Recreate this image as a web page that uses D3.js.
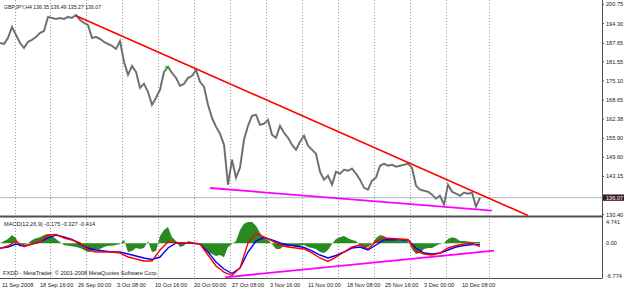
<!DOCTYPE html>
<html>
<head>
<meta charset="utf-8">
<script src="https://cdn.jsdelivr.net/npm/d3@7/dist/d3.min.js"></script>
<style>
  html, body { margin: 0; padding: 0; background: #fff; }
  svg { display: block; }
  text { font-family: "Liberation Sans", Arial, sans-serif; }
</style>
</head>
<body>
<div id="chart"></div>
<script>
// GBPJPY H4, closes read every 4 bars starting at bar 0
var closes = [187.83, 187.49, 189.50, 193.17, 190.50, 187.83, 186.16, 188.16, 188.83, 189.83,
  191.17, 191.84, 196.51, 196.18, 195.84, 196.18, 195.84, 196.51, 196.18, 197.18,
  195.51, 194.51, 193.84, 189.50, 189.83, 189.16, 188.16, 187.49, 186.83, 185.83,
  188.50, 181.48, 177.14, 180.15, 178.15, 172.80, 174.14, 171.47, 167.13, 169.46,
  172.14, 178.15, 179.82, 177.81, 176.14, 173.47, 174.14, 176.14, 176.81, 178.81,
  174.81, 173.14, 167.13, 162.79, 159.78, 157.44, 153.77, 140.42, 148.76, 142.75,
  146.09, 155.44, 160.11, 163.46, 163.79, 160.45, 160.78, 162.12, 157.11, 156.11,
  160.11, 157.78, 156.11, 153.77, 152.10, 154.77, 156.78, 153.44, 152.10, 150.77,
  144.76, 142.09, 143.42, 140.42, 144.76, 144.09, 145.42, 145.09, 145.76, 144.09,
  142.09, 139.41, 138.75, 141.75, 142.75, 146.76, 147.43, 146.76, 147.09, 146.43,
  146.76, 147.09, 147.43, 146.09, 140.08, 138.75, 138.41, 138.08, 137.08, 135.74,
  136.74, 133.74, 140.42, 138.08, 137.41, 136.74, 137.75, 137.41, 137.75, 133.07,
  136.07];
var closeStep = 4;

// MACD histogram every 4 bars, MACD lines every 8 bars
var histValues = [0, 0.45, 0.85, 1.6, 1.0, -0.7, -0.35, 0, 0.65, 1.0,
  1.2, 1.6, 1.8, 1.4, 0.85, 0.25, -0.35, -0.5, -0.6, -0.7,
  -0.9, -1.3, -1.7, -1.5, -1.3, -1.1, -0.7, -0.5, -0.5, -0.35,
  -0.15, 0.65, -1.7, -1.5, -0.9, -1.1, -0.9, 0.45, -1.7, -1.5,
  1.4, 2.6, 3.2, 1.2, 0.45, -0.7, -0.5, 0.45, 0.25, 0.05,
  -0.15, -1.3, -1.7, -2.1, -2.5, -2.3, -2.7, -0.7, -0.15, 0.45,
  2.6, 3.8, 4.15, 4.15, 3.4, 2.0, 1.0, 0.65, -0.15, -1.1,
  -1.1, -0.5, -0.7, -0.5, -0.7, -0.5, -0.35, -0.7, -0.9, -1.1,
  -1.7, -1.9, -1.3, -0.15, 0.85, 1.2, 1.4, 1.0, 0.65, 0.45,
  -0.5, -0.9, -0.7, -0.15, 1.0, 1.6, 1.4, 0.85, 0.65, 0.65,
  0.45, 0.65, 0.45, -1.1, -2.1, -1.9, -1.1, -0.9, -0.9, -0.5,
  -0.15, 0.05, 0.85, 1.2, 1.0, 0.45, 0.45, 0.35, 0.25, 0.25,
  0.25];
var histStep = 4;
var redLine = [-0.98, -0.53, 0.45, -0.66, -0.14, 0.25, 1.62, 1.72, 1.04, 0.64,
  0.06, -1.31, -1.70, -1.70, -1.70, -1.89, -2.67, -3.07, -3.46, -3.46,
  -1.31, 0.25, 0.16, 0.06, 0.06, -0.14, -2.29, -4.43, -5.61, -6.29,
  -4.82, 0.06, 1.91, 1.23, 0.45, -0.33, -0.72, -0.92, -1.11, -1.89,
  -2.87, -3.55, -2.68, -1.70, -0.72, -0.33, -1.11, 0.31, 1.04, 0.94,
  0.84, 0.74, -1.50, -2.09, -2.29, -1.89, -0.92, -0.43, -0.14, 0.00,
  -0.66];
var blueLine = [-0.98, -0.72, -0.14, -0.53, -0.14, 0.25, 1.04, 1.62, 1.23, 0.74,
  -0.14, -0.92, -1.31, -1.50, -1.70, -1.70, -2.09, -2.48, -2.87, -3.16,
  -2.68, -0.92, 0.06, 0.06, 0.00, -0.14, -1.70, -3.65, -5.02, -5.90,
  -4.82, -1.70, 0.45, 1.13, 0.64, 0.06, -0.33, -0.53, -0.82, -1.50,
  -2.29, -2.87, -2.38, -1.70, -0.92, -0.72, -1.31, -0.33, 0.64, 0.74,
  0.64, 0.64, -0.92, -1.89, -2.09, -1.89, -1.31, -0.72, -0.43, -0.23,
  -0.23];
var lineStep = 8;

// hand-drawn objects (bar, value)
var resistanceLine = [[76, 196.9], [528, 130.1]];
var supportLine = [[210, 139.3], [492, 131.7]];
var macdSupportLine = [[225, -6.64], [494, -1.45]];
var greenBar = {bar: 166, hi: 180.2, lo: 178.4};

var priceTicks = [200.75, 194.30, 187.65, 181.55, 175.10, 168.65, 162.38, 155.90, 149.60, 143.15, 130.40];
var macdTicks = [4.741, 0.00, -6.774];
var lastPrice = 136.07;
var gridBars = [15, 50, 86, 122, 158, 194, 230, 266, 302, 338, 374, 410, 446, 489];
var timeLabels = ["11 Sep 2008", "18 Sep 16:00", "26 Sep 00:00", "3 Oct 08:00", "10 Oct 16:00", "20 Oct 00:00",
  "27 Oct 08:00", "3 Nov 16:00", "11 Nov 00:00", "18 Nov 08:00", "25 Nov 16:00", "3 Dec 00:00", "10 Dec 08:00"];
var timeLabelBars = [2, 40, 78, 117, 155, 194, 232, 270, 308, 347, 385, 424, 462];
var header = "GBPJPY,H4  136.35 136.49 135.27 136.07";
var macdTitle = "MACD(12,26,9) -0.175 -0.327 -0.414";
var copyright = "FXDD - MetaTrader, \u00a9 2001-2008 MetaQuotes Software Corp.";

var W = 625, H = 290, axisX = 602;
var mainTop = 0, mainBottom = 216.5, macdTop = 219, macdBottom = 278.5;

var svg = d3.select("#chart").append("svg").attr("width", W).attr("height", H);

var x = d3.scaleLinear().domain([0, axisX]).range([0, axisX]);
var y = d3.scaleLinear().domain([130.40, 200.75]).range([214.6, 4.3]);
var ym = d3.scaleLinear().domain([-6.774, 4.741]).range([macdBottom - 0.5, macdTop]);

var defs = svg.append("defs");
defs.append("clipPath").attr("id", "clipMain").append("rect")
  .attr("x", 0).attr("y", mainTop).attr("width", axisX).attr("height", mainBottom - mainTop);
defs.append("clipPath").attr("id", "clipMacd").append("rect")
  .attr("x", 0).attr("y", macdTop).attr("width", axisX).attr("height", macdBottom - macdTop);

// vertical dotted grid
svg.append("g").selectAll("line").data(gridBars).enter().append("line")
  .attr("x1", function(d) { return x(d) + 0.5; })
  .attr("x2", function(d) { return x(d) + 0.5; })
  .attr("y1", mainTop).attr("y2", macdBottom)
  .attr("stroke", "#9a9a9a").attr("stroke-width", 1)
  .attr("stroke-dasharray", "1,2");

// main panel
var main = svg.append("g").attr("clip-path", "url(#clipMain)");

main.append("line")
  .attr("x1", 0).attr("x2", axisX)
  .attr("y1", y(lastPrice)).attr("y2", y(lastPrice))
  .attr("stroke", "#a8b8c8").attr("stroke-width", 1);

var priceLine = d3.line()
  .x(function(d, i) { return x(i * closeStep); })
  .y(function(d) { return y(d); });

main.append("path").datum(closes)
  .attr("d", priceLine)
  .attr("fill", "none").attr("stroke", "#8c8c8c").attr("stroke-width", 2.1);
main.append("path").datum(closes)
  .attr("d", priceLine)
  .attr("fill", "none").attr("stroke", "#505050").attr("stroke-width", 0.7);

main.append("line")
  .attr("x1", x(greenBar.bar)).attr("x2", x(greenBar.bar))
  .attr("y1", y(greenBar.hi)).attr("y2", y(greenBar.lo))
  .attr("stroke", "#00e000").attr("stroke-width", 1.5);

var trend = d3.line()
  .x(function(d) { return x(d[0]); })
  .y(function(d) { return y(d[1]); });

main.append("path").datum(resistanceLine).attr("d", trend)
  .attr("stroke", "#ff0000").attr("stroke-width", 1.6).attr("fill", "none");
main.append("path").datum(supportLine).attr("d", trend)
  .attr("stroke", "#ff00ff").attr("stroke-width", 1.8).attr("fill", "none");

// MACD panel
var macd = svg.append("g").attr("clip-path", "url(#clipMacd)");

var histArea = d3.area()
  .x(function(d, i) { return x(i * histStep); })
  .y0(ym(0))
  .y1(function(d) { return ym(d); });
macd.append("path").datum(histValues).attr("d", histArea)
  .attr("fill", "#2a8a22");

var macdLine = d3.line()
  .x(function(d, i) { return x(i * lineStep); })
  .y(function(d) { return ym(d); });

macd.append("path").datum(blueLine).attr("d", macdLine)
  .attr("fill", "none").attr("stroke", "#0000ff").attr("stroke-width", 1.4);
macd.append("path").datum(redLine).attr("d", macdLine)
  .attr("fill", "none").attr("stroke", "#ff0000").attr("stroke-width", 1.4);

var macdTrend = d3.line()
  .x(function(d) { return x(d[0]); })
  .y(function(d) { return ym(d[1]); });
macd.append("path").datum(macdSupportLine).attr("d", macdTrend)
  .attr("stroke", "#ff00ff").attr("stroke-width", 1.8).attr("fill", "none");

// frames
svg.append("line").attr("x1", 0).attr("x2", axisX).attr("y1", mainBottom).attr("y2", mainBottom)
  .attr("stroke", "#505050").attr("stroke-width", 2);
svg.append("line").attr("x1", 0).attr("x2", axisX).attr("y1", macdBottom).attr("y2", macdBottom)
  .attr("stroke", "#505050").attr("stroke-width", 1);
svg.append("line").attr("x1", axisX + 0.5).attr("x2", axisX + 0.5).attr("y1", 0).attr("y2", macdBottom)
  .attr("stroke", "#505050").attr("stroke-width", 1);

// price axis
var pAxis = svg.append("g");
pAxis.selectAll("text").data(priceTicks).enter().append("text")
  .attr("x", axisX + 4).attr("y", function(d) { return y(d) + 2; })
  .attr("font-size", 5.6).attr("fill", "#202020")
  .text(function(d) { return d.toFixed(2); });
pAxis.selectAll("line").data(priceTicks).enter().append("line")
  .attr("x1", axisX).attr("x2", axisX + 2)
  .attr("y1", function(d) { return y(d); }).attr("y2", function(d) { return y(d); })
  .attr("stroke", "#505050");

// last price marker
svg.append("rect")
  .attr("x", axisX + 1).attr("y", y(lastPrice) - 3.2)
  .attr("width", 21).attr("height", 6.4).attr("fill", "#3a1a2c");
svg.append("text")
  .attr("x", axisX + 4).attr("y", y(lastPrice) + 2)
  .attr("font-size", 5.6).attr("fill", "#ffffff")
  .text(lastPrice.toFixed(2));

// macd axis
svg.append("g").selectAll("text").data(macdTicks).enter().append("text")
  .attr("x", axisX + 4)
  .attr("y", function(d) { return Math.min(Math.max(ym(d), macdTop + 3.3), macdBottom - 3) + 2; })
  .attr("font-size", 5.6).attr("fill", "#202020")
  .text(function(d) { return d === 0 ? "0.00" : d.toFixed(3); });

// time axis
svg.append("g").selectAll("text").data(timeLabels).enter().append("text")
  .attr("x", function(d, i) { return x(timeLabelBars[i]); })
  .attr("y", 286.5)
  .attr("font-size", 5.6).attr("fill", "#202020")
  .text(function(d) { return d; });

// captions
svg.append("text").attr("x", 4).attr("y", 8.5).attr("font-size", 5.2).attr("fill", "#202020").text(header);
svg.append("text").attr("x", 4).attr("y", 226).attr("font-size", 5.6).attr("fill", "#202020").text(macdTitle);
svg.append("text").attr("x", 3).attr("y", 275).attr("font-size", 5.6).attr("fill", "#202020").text(copyright);
</script>
</body>
</html>
